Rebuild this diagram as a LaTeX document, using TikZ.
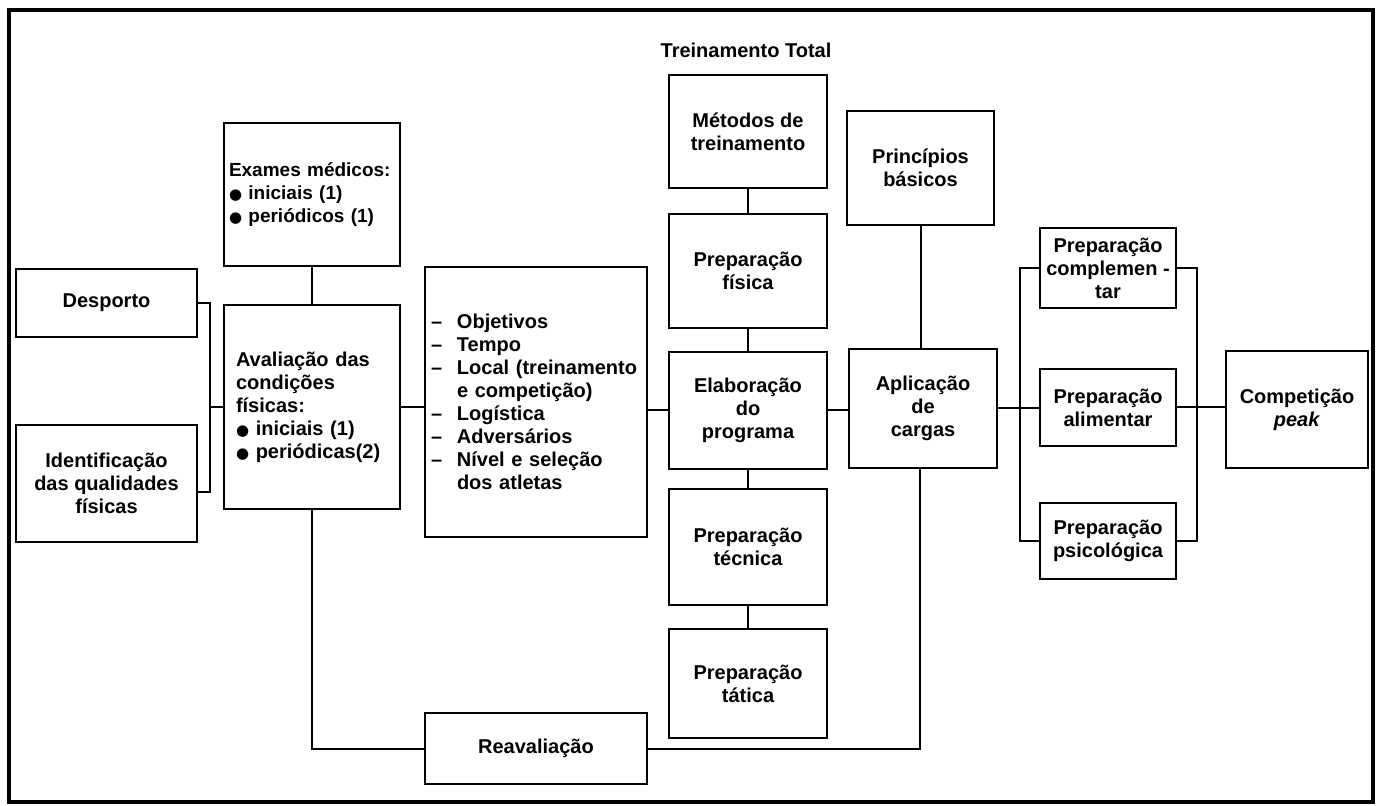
\documentclass[tikz,border=0pt]{standalone}
\usepackage{fontspec}
\setmainfont{Liberation Sans}
\newfontfamily\dejavu{DejaVu Sans}
\newcommand{\mybullet}{{\dejavu\fontsize{7.5}{7.5}\selectfont ●}}
\newcommand{\dashitem}{\makebox[13pt][l]{–}}
\begin{document}
\begin{tikzpicture}[x=0.5pt,y=-0.5pt,
  box/.style={draw,line width=1pt,inner sep=2pt,align=center,font=\fontsize{10}{11.5}\selectfont\bfseries},
  wire/.style={line width=1pt},
  frame/.style={line width=1.6pt}]
\useasboundingbox (0,0) rectangle (1380,806);
\fill[white] (0,0) rectangle (1380,806);
\draw[frame] (9,10) rectangle (1373,802);

\node[font=\fontsize{10}{11.5}\selectfont\bfseries] (title) at (746,50) {Treinamento Total};

\node[box,minimum width=88pt,minimum height=71.5pt,text width=83pt,align=left,inner xsep=2.5pt,font=\fontsize{9.5}{11.5}\selectfont\bfseries] (exam) at (312,194.5) {Exames médicos:\\\mybullet\ iniciais (1)\\\mybullet\ periódicos (1)};
\node[box,minimum width=90.5pt,minimum height=34pt] (desp) at (106.5,303) {Desporto};
\node[box,minimum width=90.5pt,minimum height=58.5pt] (ident) at (106.5,483.5) {Identificação\\das qualidades\\físicas};
\node[box,minimum width=88pt,minimum height=102pt,text width=76pt,align=left,inner xsep=6pt] (aval) at (312,407) {Avaliação das\\condições\\físicas:\\\mybullet\ iniciais (1)\\\mybullet\ periódicas(2)};
\node[box,minimum width=111pt,minimum height=135pt,text width=105pt,align=left,inner xsep=3pt] (obj) at (536,402) {\dashitem Objetivos\\\dashitem Tempo\\\dashitem Local (treinamento\\\hspace*{13pt}e competição)\\\dashitem Logística\\\dashitem Adversários\\\dashitem Nível e seleção\\\hspace*{13pt}dos atletas};
\node[box,minimum width=111pt,minimum height=35.5pt] (reav) at (536,748.5) {Reavaliação};

\node[box,minimum width=79pt,minimum height=56.5pt] (met) at (748,131.5) {Métodos de\\treinamento};
\node[box,minimum width=79pt,minimum height=57pt] (fis) at (748,271) {Preparação\\física};
\node[box,minimum width=79pt,minimum height=58.5pt] (elab) at (748,410.5) {Elaboração\\do\\programa};
\node[box,minimum width=79pt,minimum height=58pt] (tec) at (748,547) {Preparação\\técnica};
\node[box,minimum width=79pt,minimum height=54.5pt] (tat) at (748,683.5) {Preparação\\tática};

\node[box,minimum width=73.5pt,minimum height=57pt] (princ) at (920.5,168) {Princípios\\básicos};
\node[box,minimum width=74pt,minimum height=59.5pt] (apl) at (923,408.5) {Aplicação\\de\\cargas};

\node[box,minimum width=68pt,minimum height=40pt] (compl) at (1108,268) {Preparação\\complemen -\\tar};
\node[box,minimum width=68pt,minimum height=38.5pt] (alim) at (1108,407.5) {Preparação\\alimentar};
\node[box,minimum width=68pt,minimum height=38pt] (psic) at (1108,541) {Preparação\\psicológica};
\node[box,minimum width=71pt,minimum height=58.5pt] (comp) at (1297,409.5) {Competição\\\textit{peak}};

% connectors
\coordinate (dj) at (210,407);
\coordinate (dk) at (210,492);
\draw[wire] (desp.east) -- (desp.east -| dj) -- (dk) -- (dk -| ident.east);
\draw[wire] (dj) -- (dj -| aval.west);
\draw[wire] (exam.south) -- (aval.north);
\draw[wire] (aval.east) -- (aval.east -| obj.west);
\draw[wire] (obj.east |- elab.west) -- (elab.west);
\draw[wire] (elab.east) -- (elab.east -| apl.west);
\draw[wire] (met.south) -- (fis.north);
\draw[wire] (fis.south) -- (elab.north);
\draw[wire] (elab.south) -- (tec.north);
\draw[wire] (tec.south) -- (tat.north);
\draw[wire] (princ.south) -- (princ.south |- apl.north);
\draw[wire] (aval.south) |- (reav.west);
\coordinate (rj) at (920,748.5);
\draw[wire] (reav.east) -- (rj) -- (rj |- apl.south);
\draw[wire] (apl.east) -- (apl.east -| alim.west);
\coordinate (lb) at (1020,407.5);
\coordinate (rb) at (1197,407.5);
\draw[wire] (compl.west) -| (lb |- psic.west) -- (psic.west);
\draw[wire] (compl.east) -| (rb |- psic.east) -- (psic.east);
\draw[wire] (alim.east) -- (alim.east -| comp.west);
\end{tikzpicture}
\end{document}
